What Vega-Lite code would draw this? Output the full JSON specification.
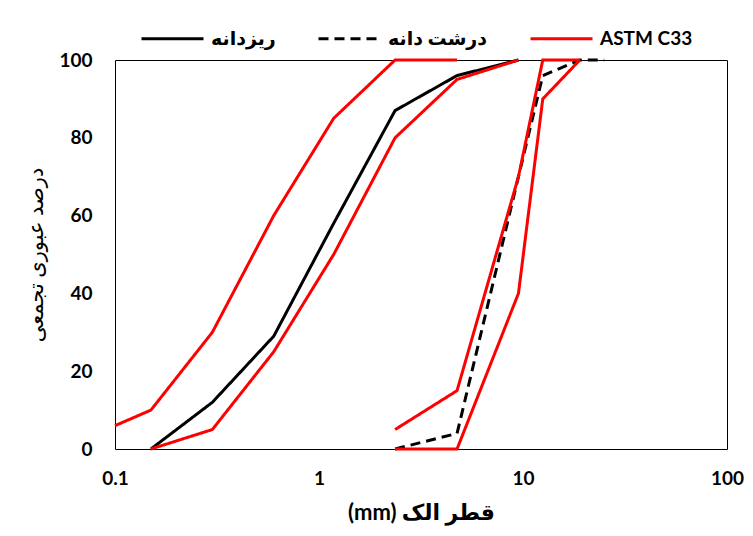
{
  "$schema": "https://vega.github.io/schema/vega-lite/v6.json",
  "width": 612,
  "height": 389,
  "autosize": {"type": "none"},
  "padding": {"left": 115, "top": 60, "right": 26, "bottom": 87},
  "background": "white",
  "config": {
    "view": {"stroke": "black", "strokeWidth": 1},
    "font": "Lato, DejaVu Sans",
    "legend": {
      "orient": "none",
      "legendX": 25,
      "legendY": -54,
      "direction": "horizontal",
      "symbolType": "stroke",
      "symbolSize": 3844,
      "symbolStrokeWidth": 3,
      "labelFontSize": 19,
      "labelFontWeight": "bold",
      "labelColor": "black",
      "labelFont": "Lato, DejaVu Sans",
      "columnPadding": 36,
      "labelOffset": 6
    }
  },
  "data": {
    "values": [
      {"s": "ریزدانه", "c": "f", "x": 0.15, "y": 0},
      {"s": "ریزدانه", "c": "f", "x": 0.3, "y": 12},
      {"s": "ریزدانه", "c": "f", "x": 0.6, "y": 29},
      {"s": "ریزدانه", "c": "f", "x": 1.18, "y": 58},
      {"s": "ریزدانه", "c": "f", "x": 2.36, "y": 87},
      {"s": "ریزدانه", "c": "f", "x": 4.75, "y": 96},
      {"s": "ریزدانه", "c": "f", "x": 9.5, "y": 100},
      {"s": "درشت دانه", "c": "c", "x": 2.36, "y": 0},
      {"s": "درشت دانه", "c": "c", "x": 4.75, "y": 4},
      {"s": "درشت دانه", "c": "c", "x": 9.5, "y": 70},
      {"s": "درشت دانه", "c": "c", "x": 12.5, "y": 96},
      {"s": "درشت دانه", "c": "c", "x": 19, "y": 100},
      {"s": "درشت دانه", "c": "c", "x": 25, "y": 100},
      {"s": "ASTM C33", "c": "a1", "x": 0.1, "y": 6},
      {"s": "ASTM C33", "c": "a1", "x": 0.15, "y": 10},
      {"s": "ASTM C33", "c": "a1", "x": 0.3, "y": 30},
      {"s": "ASTM C33", "c": "a1", "x": 0.6, "y": 60},
      {"s": "ASTM C33", "c": "a1", "x": 1.18, "y": 85},
      {"s": "ASTM C33", "c": "a1", "x": 2.36, "y": 100},
      {"s": "ASTM C33", "c": "a1", "x": 4.75, "y": 100},
      {"s": "ASTM C33", "c": "a2", "x": 0.15, "y": 0},
      {"s": "ASTM C33", "c": "a2", "x": 0.3, "y": 5},
      {"s": "ASTM C33", "c": "a2", "x": 0.6, "y": 25},
      {"s": "ASTM C33", "c": "a2", "x": 1.18, "y": 50},
      {"s": "ASTM C33", "c": "a2", "x": 2.36, "y": 80},
      {"s": "ASTM C33", "c": "a2", "x": 4.75, "y": 95},
      {"s": "ASTM C33", "c": "a2", "x": 9.5, "y": 100},
      {"s": "ASTM C33", "c": "a3", "x": 2.36, "y": 5},
      {"s": "ASTM C33", "c": "a3", "x": 4.75, "y": 15},
      {"s": "ASTM C33", "c": "a3", "x": 9.5, "y": 70},
      {"s": "ASTM C33", "c": "a3", "x": 12.5, "y": 100},
      {"s": "ASTM C33", "c": "a3", "x": 19, "y": 100},
      {"s": "ASTM C33", "c": "a4", "x": 2.36, "y": 0},
      {"s": "ASTM C33", "c": "a4", "x": 4.75, "y": 0},
      {"s": "ASTM C33", "c": "a4", "x": 9.5, "y": 40},
      {"s": "ASTM C33", "c": "a4", "x": 12.5, "y": 90},
      {"s": "ASTM C33", "c": "a4", "x": 19, "y": 100}
    ]
  },
  "mark": {"type": "line", "strokeWidth": 3, "clip": false},
  "encoding": {
    "x": {
      "field": "x",
      "type": "quantitative",
      "scale": {"type": "log", "domain": [0.1, 100]},
      "axis": {
        "values": [0.1, 1, 10, 100],
        "format": "~g",
        "title": "(mm) قطر الک",
        "labelFont": "Lato, DejaVu Sans",
        "labelFontWeight": "bold",
        "labelFontSize": 19,
        "labelColor": "black",
        "labelPadding": 20,
        "labelFlush": false,
        "ticks": false,
        "domain": false,
        "grid": false,
        "titleFont": "Lato, DejaVu Sans",
        "titleFontSize": 22,
        "titleFontWeight": "bold",
        "titleColor": "black",
        "titlePadding": 14
      }
    },
    "y": {
      "field": "y",
      "type": "quantitative",
      "scale": {"domain": [0, 100]},
      "axis": {
        "values": [0, 20, 40, 60, 80, 100],
        "title": "درصد عبوری تجمعی",
        "labelFont": "Lato, DejaVu Sans",
        "labelFontWeight": "bold",
        "labelFontSize": 19,
        "labelColor": "black",
        "labelPadding": 23,
        "ticks": false,
        "domain": false,
        "grid": false,
        "titleFont": "Lato, DejaVu Sans",
        "titleFontSize": 21,
        "titleFontWeight": "normal",
        "titleColor": "black",
        "titlePadding": 12
      }
    },
    "color": {
      "field": "s",
      "type": "nominal",
      "scale": {"domain": ["ریزدانه", "درشت دانه", "ASTM C33"], "range": ["#000000", "#000000", "#ff0000"]},
      "legend": {"title": null}
    },
    "strokeDash": {
      "field": "s",
      "type": "nominal",
      "scale": {"domain": ["ریزدانه", "درشت دانه", "ASTM C33"], "range": [[1, 0], [10, 6], [1, 0]]},
      "legend": {"title": null}
    },
    "detail": {"field": "c"}
  }
}
